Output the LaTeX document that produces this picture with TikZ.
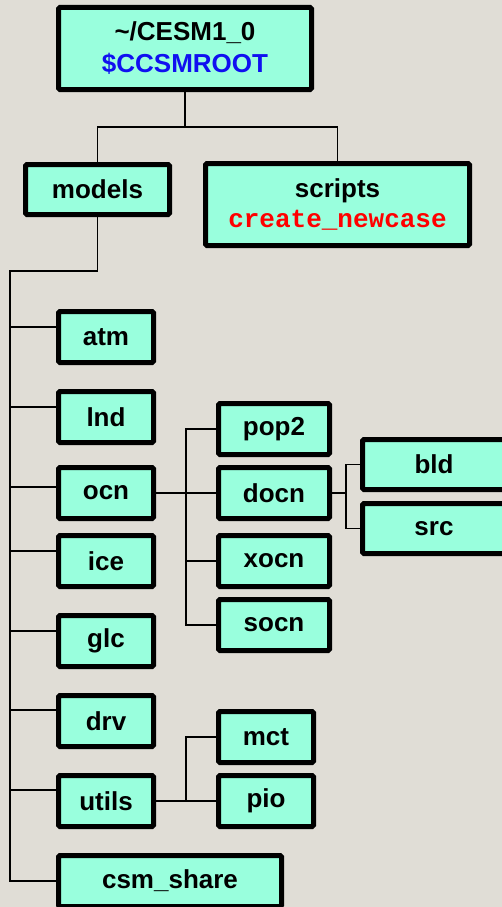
\documentclass[tikz,border=0pt]{standalone}
\usepackage{fontspec}
\setmainfont{Liberation Sans}
\setmonofont{Liberation Mono}
\definecolor{bgc}{RGB}{224,221,214}
\definecolor{boxfill}{RGB}{153,255,221}
\definecolor{rootblue}{RGB}{16,16,240}
\definecolor{cmdred}{RGB}{255,0,0}
\begin{document}
\begin{tikzpicture}[x=1pt,y=-1pt,
  box/.style={draw=black, fill=boxfill, line width=5pt, rounded corners=1.5pt,
    inner sep=0pt, align=center, font=\fontsize{26}{32}\selectfont\bfseries},
  conn/.style={draw=black, line width=1.7pt}]
\fill[bgc] (0,0) rectangle (502,907);
\useasboundingbox (0,0) rectangle (502,907);
\clip (0,0) rectangle (502,907);
% nodes
\node[box, minimum width=253pt, minimum height=82pt] (root) at (185,48.5)
  {\textasciitilde/CESM1\_0\\\textcolor{rootblue}{\$CCSMROOT}};
\node[box, minimum width=144pt, minimum height=50pt] (models) at (97.5,189.5) {models};
\node[box, minimum width=264pt, minimum height=82pt] (scripts) at (337.5,204.5)
  {scripts\\[-2pt]\textcolor{cmdred}{\ttfamily\fontsize{26}{30}\selectfont create\_newcase}};
\node[box, minimum width=95pt, minimum height=51pt] (atm) at (106,337) {atm};
\node[box, minimum width=95pt, minimum height=51pt] (lnd) at (106,417) {lnd};
\node[box, minimum width=95pt, minimum height=51pt] (ocn) at (106,493) {ocn};
\node[box, minimum width=95pt, minimum height=51pt] (ice) at (106,561) {ice};
\node[box, minimum width=95pt, minimum height=51pt] (glc) at (106,641) {glc};
\node[box, minimum width=95pt, minimum height=51pt] (drv) at (106,721) {drv};
\node[box, minimum width=95pt, minimum height=51pt] (utils) at (106,801) {utils};
\node[box, minimum width=223pt, minimum height=51pt] (csm) at (170,881) {csm\_share};
\node[box, minimum width=111pt, minimum height=51pt] (pop2) at (274,429) {pop2};
\node[box, minimum width=111pt, minimum height=51pt] (docn) at (274,493) {docn};
\node[box, minimum width=111pt, minimum height=51pt] (xocn) at (274,561) {xocn};
\node[box, minimum width=111pt, minimum height=51pt] (socn) at (274,625) {socn};
\node[box, minimum width=95pt, minimum height=51pt] (mct) at (266,737) {mct};
\node[box, minimum width=95pt, minimum height=51pt] (pio) at (266,801) {pio};
\node[box, minimum width=143pt, minimum height=50pt] (bld) at (434,464.5) {bld};
\node[box, minimum width=143pt, minimum height=50pt] (src) at (434,528.5) {src};
% junction coordinates
\coordinate (rj) at (185,127);
\coordinate (mj) at (10,271);
\coordinate (oj) at (186,493);
\coordinate (dj) at (346,493);
\coordinate (uj) at (186,801);
% connectors
\draw[conn] (root.south) -- (rj);
\draw[conn] (models.north) |- (rj) -| (scripts.north);
\draw[conn] (models.south) |- (mj) -- (mj |- csm.west) -- (csm.west);
\draw[conn] ([yshift=10pt]mj |- atm.west) -- ([yshift=10pt]atm.west);
\draw[conn] ([yshift=10pt]mj |- lnd.west) -- ([yshift=10pt]lnd.west);
\draw[conn] ([yshift=6pt]mj |- ocn.west) -- ([yshift=6pt]ocn.west);
\draw[conn] ([yshift=10pt]mj |- ice.west) -- ([yshift=10pt]ice.west);
\draw[conn] ([yshift=10pt]mj |- glc.west) -- ([yshift=10pt]glc.west);
\draw[conn] ([yshift=11pt]mj |- drv.west) -- ([yshift=11pt]drv.west);
\draw[conn] ([yshift=11pt]mj |- utils.west) -- ([yshift=11pt]utils.west);
\draw[conn] (ocn.east) -- (docn.west);
\draw[conn] (pop2.west) -| (oj |- socn.west) -- (socn.west);
\draw[conn] (oj |- xocn.west) -- (xocn.west);
\draw[conn] (docn.east) -- (dj);
\draw[conn] (bld.west) -| (dj |- src.west) -- (src.west);
\draw[conn] (utils.east) -- (pio.west);
\draw[conn] (mct.west) -| (uj);
\end{tikzpicture}
\end{document}
